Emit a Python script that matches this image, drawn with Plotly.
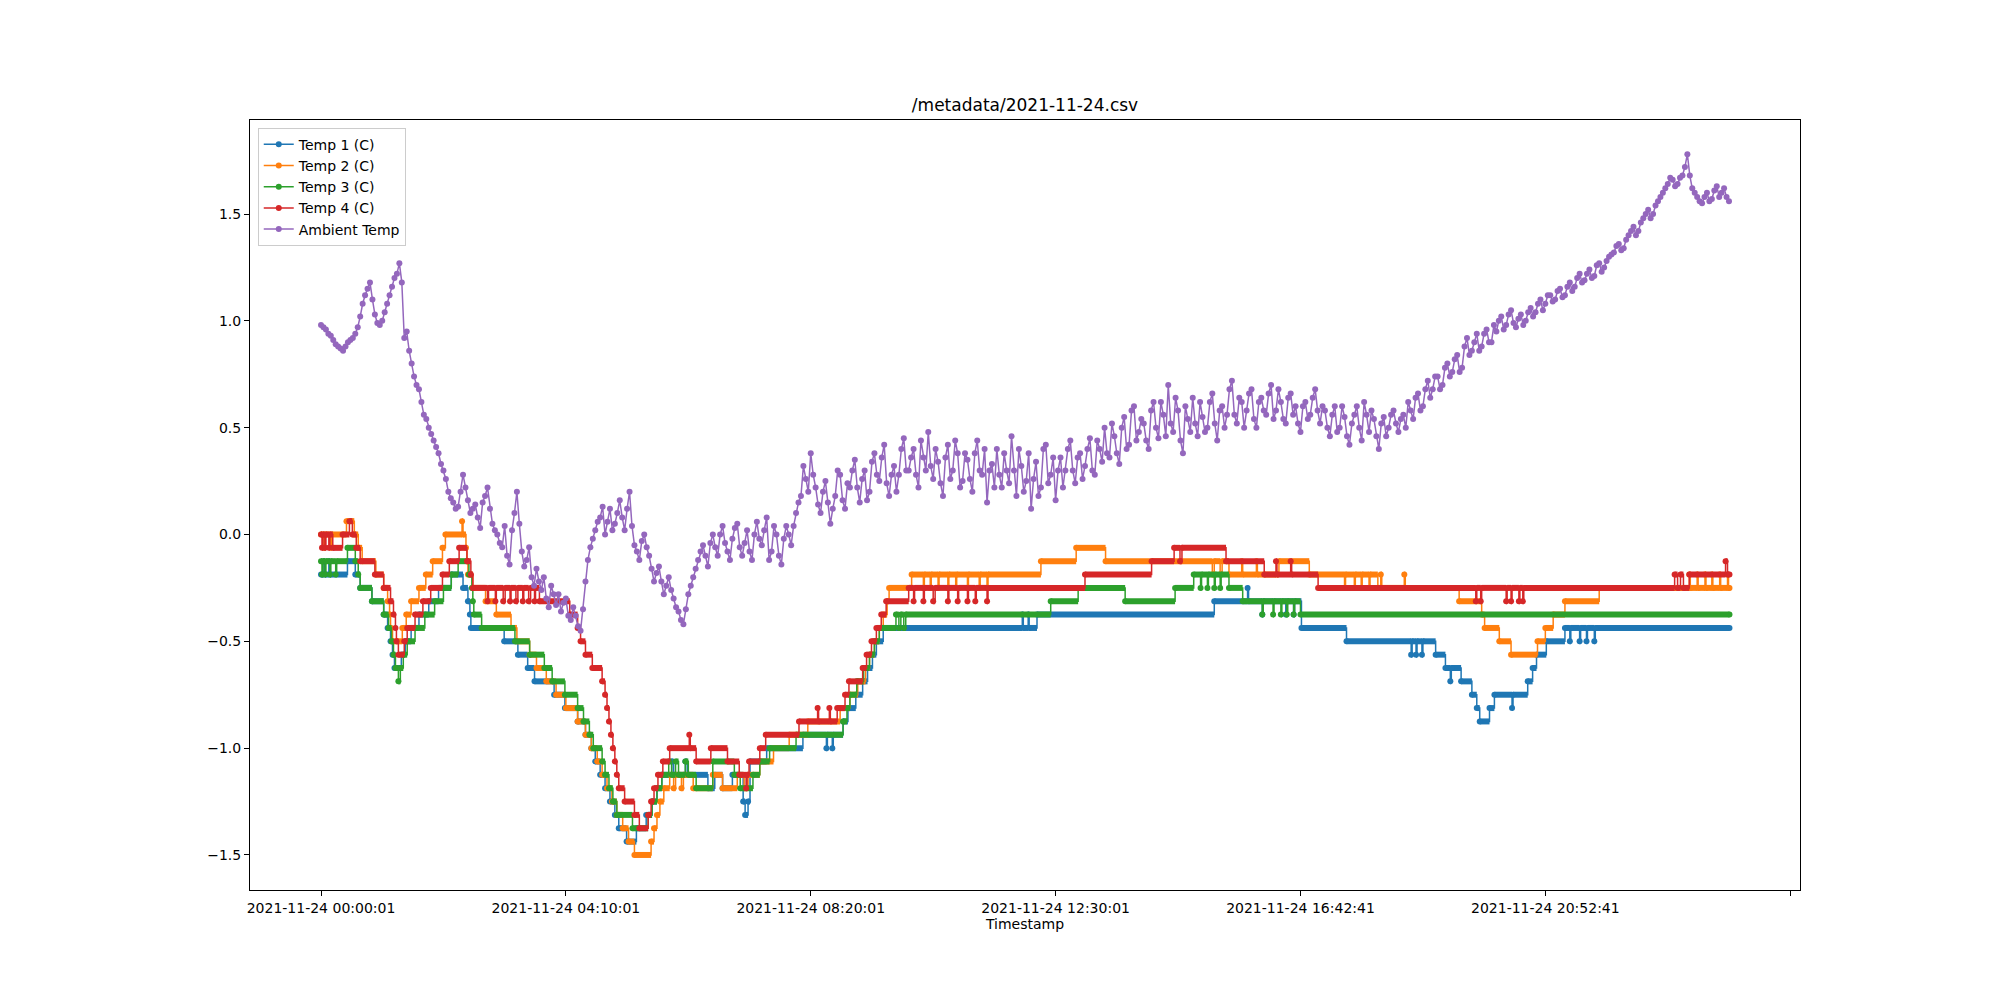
import plotly.graph_objects as go

TITLE = "/metadata/2021-11-24.csv"
X_LABEL = "Timestamp"
# x is minutes since 00:00:01 (sample position along the categorical time axis)
X_TICK_POS = [0, 250, 500, 750, 1000, 1250, 1500]
X_TICK_TEXT = [
    "2021-11-24 00:00:01",
    "2021-11-24 04:10:01",
    "2021-11-24 08:20:01",
    "2021-11-24 12:30:01",
    "2021-11-24 16:42:41",
    "2021-11-24 20:52:41",
    "",
]
Y_TICK_POS = [-1.5, -1.0, -0.5, 0.0, 0.5, 1.0, 1.5]
Y_TICK_TEXT = ["\u22121.5", "\u22121.0", "\u22120.5", "0.0", "0.5", "1.0", "1.5"]
LAST_MIN = 1438

# sensor readings as (minute, value) change points; 1/16 degree resolution
TEMP1 = [
    (0, -0.1875), (3, -0.125), (4, -0.1875), (8, -0.125), (9, -0.1875), (27, -0.125), (35, -0.1875),
    (40, -0.25), (52, -0.3125), (64, -0.375), (68, -0.4375), (71, -0.5), (73, -0.5625), (75, -0.625),
    (82, -0.5625), (86, -0.5), (92, -0.4375), (100, -0.375), (110, -0.3125), (120, -0.25), (133, -0.1875),
    (145, -0.25), (150, -0.3125), (152, -0.375), (153, -0.4375), (187, -0.5), (201, -0.5625), (211, -0.625),
    (218, -0.6875), (238, -0.75), (249, -0.8125), (262, -0.875), (270, -0.9375), (276, -1.0), (280, -1.0625),
    (285, -1.125), (290, -1.1875), (295, -1.25), (300, -1.3125), (304, -1.375), (312, -1.4375), (322, -1.375),
    (332, -1.3125), (338, -1.25), (343, -1.1875), (348, -1.125), (358, -1.0625), (360, -1.125), (372, -1.0625),
    (374, -1.125), (395, -1.1875), (402, -1.125), (410, -1.1875), (420, -1.125), (431, -1.25), (433, -1.3125),
    (436, -1.25), (438, -1.0625), (455, -1.0), (492, -0.9375), (516, -1.0), (517, -0.9375), (522, -1.0),
    (523, -0.9375), (533, -0.875), (538, -0.8125), (546, -0.75), (553, -0.6875), (558, -0.625), (563, -0.5625),
    (567, -0.5), (574, -0.4375), (716, -0.375), (717, -0.4375), (722, -0.375), (723, -0.4375), (731, -0.375),
    (912, -0.3125), (946, -0.25), (947, -0.3125), (961, -0.375), (962, -0.3125), (985, -0.375), (986, -0.3125),
    (993, -0.375), (994, -0.3125), (1001, -0.4375), (1047, -0.5), (1113, -0.5625), (1114, -0.5), (1118, -0.5625),
    (1119, -0.5), (1124, -0.5625), (1125, -0.5), (1138, -0.5625), (1148, -0.625), (1153, -0.6875), (1154, -0.625),
    (1164, -0.6875), (1175, -0.75), (1180, -0.8125), (1183, -0.875), (1193, -0.8125), (1198, -0.75),
    (1216, -0.8125), (1217, -0.75), (1232, -0.6875), (1237, -0.625), (1241, -0.5625), (1251, -0.5),
    (1270, -0.4375), (1275, -0.5), (1276, -0.4375), (1285, -0.5), (1286, -0.4375), (1292, -0.5), (1293, -0.4375),
    (1300, -0.5), (1301, -0.4375), (1438, -0.4375),
]

TEMP2 = [
    (0, 0.0), (3, -0.0625), (4, 0.0), (10, -0.0625), (11, 0.0), (26, 0.0625), (34, 0.0), (38, -0.0625),
    (42, -0.125), (56, -0.1875), (64, -0.25), (68, -0.3125), (70, -0.375), (71, -0.4375), (73, -0.5),
    (83, -0.4375), (87, -0.375), (92, -0.3125), (100, -0.25), (107, -0.1875), (114, -0.125), (124, -0.0625),
    (127, 0.0), (144, 0.0625), (145, 0.0), (148, -0.0625), (149, -0.125), (150, -0.1875), (155, -0.25),
    (168, -0.3125), (179, -0.375), (194, -0.4375), (200, -0.5), (213, -0.5625), (220, -0.625), (230, -0.6875),
    (240, -0.75), (250, -0.8125), (262, -0.875), (270, -0.9375), (276, -1.0), (282, -1.0625), (287, -1.125),
    (292, -1.1875), (297, -1.25), (302, -1.3125), (308, -1.375), (314, -1.4375), (320, -1.5), (337, -1.4375),
    (340, -1.375), (343, -1.3125), (346, -1.25), (350, -1.1875), (356, -1.125), (360, -1.1875), (362, -1.125),
    (368, -1.1875), (370, -1.125), (380, -1.1875), (400, -1.125), (410, -1.1875), (425, -1.125), (432, -1.1875),
    (436, -1.125), (448, -1.0625), (462, -1.0), (478, -0.9375), (497, -0.875), (530, -0.8125), (540, -0.75),
    (548, -0.6875), (556, -0.625), (560, -0.5625), (565, -0.5), (570, -0.4375), (574, -0.375), (578, -0.3125),
    (580, -0.25), (603, -0.1875), (615, -0.25), (616, -0.1875), (622, -0.25), (623, -0.1875), (630, -0.25),
    (631, -0.1875), (640, -0.25), (641, -0.1875), (648, -0.25), (649, -0.1875), (660, -0.25), (661, -0.1875),
    (672, -0.25), (673, -0.1875), (680, -0.25), (681, -0.1875), (735, -0.125), (771, -0.0625), (801, -0.125),
    (910, -0.1875), (912, -0.125), (918, -0.1875), (920, -0.125), (927, -0.1875), (940, -0.125), (941, -0.1875),
    (955, -0.125), (956, -0.1875), (978, -0.125), (1009, -0.1875), (1045, -0.25), (1046, -0.1875), (1055, -0.25),
    (1056, -0.1875), (1062, -0.25), (1063, -0.1875), (1070, -0.25), (1071, -0.1875), (1079, -0.25),
    (1082, -0.1875), (1083, -0.25), (1106, -0.1875), (1107, -0.25), (1162, -0.3125), (1185, -0.375),
    (1188, -0.4375), (1203, -0.5), (1215, -0.5625), (1242, -0.5), (1250, -0.4375), (1258, -0.375),
    (1270, -0.3125), (1305, -0.25), (1397, -0.1875), (1398, -0.25), (1405, -0.1875), (1406, -0.25),
    (1413, -0.1875), (1414, -0.25), (1420, -0.1875), (1421, -0.25), (1428, -0.1875), (1429, -0.25),
    (1436, -0.1875), (1437, -0.25), (1438, -0.25),
]

TEMP3 = [
    (0, -0.125), (1, -0.1875), (2, -0.125), (4, -0.1875), (5, -0.125), (9, -0.1875), (10, -0.125),
    (15, -0.1875), (16, -0.125), (27, -0.0625), (35, -0.125), (38, -0.1875), (40, -0.25), (52, -0.3125),
    (64, -0.375), (69, -0.4375), (72, -0.5), (74, -0.5625), (76, -0.625), (79, -0.6875), (81, -0.625),
    (84, -0.5625), (88, -0.5), (96, -0.4375), (106, -0.375), (116, -0.3125), (125, -0.25), (133, -0.1875),
    (140, -0.125), (151, -0.1875), (154, -0.25), (155, -0.3125), (156, -0.375), (164, -0.4375), (198, -0.5),
    (213, -0.5625), (228, -0.625), (236, -0.6875), (249, -0.75), (262, -0.8125), (268, -0.875), (274, -0.9375),
    (278, -1.0), (287, -1.0625), (290, -1.125), (294, -1.1875), (298, -1.25), (302, -1.3125), (318, -1.375),
    (334, -1.3125), (338, -1.25), (343, -1.1875), (348, -1.125), (355, -1.0625), (358, -1.125), (362, -1.0625),
    (365, -1.125), (372, -1.0625), (375, -1.125), (383, -1.1875), (400, -1.0625), (422, -1.125), (428, -1.1875),
    (441, -1.125), (448, -1.0625), (458, -1.0), (485, -0.9375), (533, -0.875), (537, -0.8125), (540, -0.75),
    (547, -0.6875), (554, -0.625), (560, -0.5625), (565, -0.5), (570, -0.4375), (587, -0.375), (590, -0.4375),
    (592, -0.375), (595, -0.4375), (597, -0.375), (745, -0.3125), (773, -0.25), (821, -0.3125), (872, -0.25),
    (891, -0.1875), (898, -0.25), (899, -0.1875), (905, -0.25), (906, -0.1875), (912, -0.25), (913, -0.1875),
    (918, -0.25), (919, -0.1875), (927, -0.25), (941, -0.3125), (961, -0.375), (962, -0.3125), (972, -0.375),
    (973, -0.3125), (980, -0.375), (981, -0.3125), (986, -0.375), (987, -0.3125), (993, -0.375), (994, -0.3125),
    (1000, -0.375), (1438, -0.375),
]

TEMP4 = [
    (0, 0.0), (1, -0.0625), (2, 0.0), (4, -0.0625), (5, 0.0), (8, -0.0625), (9, 0.0), (12, -0.0625), (22, 0.0),
    (29, 0.0625), (32, 0.0), (36, -0.0625), (40, -0.125), (55, -0.1875), (64, -0.25), (71, -0.3125), (74, -0.375),
    (76, -0.4375), (77, -0.5), (79, -0.5625), (85, -0.5), (88, -0.4375), (96, -0.375), (104, -0.3125),
    (112, -0.25), (124, -0.1875), (131, -0.125), (141, -0.0625), (149, -0.125), (153, -0.1875), (155, -0.25),
    (170, -0.3125), (171, -0.25), (178, -0.3125), (179, -0.25), (186, -0.3125), (188, -0.25), (193, -0.3125),
    (194, -0.25), (199, -0.3125), (201, -0.25), (206, -0.3125), (207, -0.25), (212, -0.3125), (214, -0.25),
    (218, -0.3125), (219, -0.25), (223, -0.3125), (254, -0.375), (262, -0.4375), (265, -0.5), (270, -0.5625),
    (277, -0.625), (287, -0.6875), (290, -0.75), (292, -0.8125), (294, -0.875), (296, -0.9375), (298, -1.0),
    (300, -1.0625), (302, -1.125), (304, -1.1875), (310, -1.25), (320, -1.3125), (325, -1.375), (334, -1.3125),
    (337, -1.25), (340, -1.1875), (344, -1.125), (349, -1.0625), (356, -1.0), (376, -0.9375), (377, -1.0),
    (383, -1.0625), (398, -1.0), (415, -1.0625), (427, -1.125), (434, -1.1875), (435, -1.125), (437, -1.0625),
    (448, -1.0), (454, -0.9375), (488, -0.875), (507, -0.8125), (508, -0.875), (519, -0.8125), (520, -0.875),
    (527, -0.8125), (535, -0.75), (539, -0.6875), (553, -0.625), (557, -0.5625), (562, -0.5), (567, -0.4375),
    (572, -0.375), (577, -0.3125), (600, -0.25), (605, -0.3125), (606, -0.25), (615, -0.3125), (616, -0.25),
    (625, -0.3125), (627, -0.25), (640, -0.3125), (641, -0.25), (650, -0.3125), (651, -0.25), (660, -0.3125),
    (661, -0.25), (668, -0.3125), (669, -0.25), (680, -0.3125), (681, -0.25), (780, -0.1875), (848, -0.125),
    (871, -0.0625), (877, -0.125), (879, -0.0625), (924, -0.125), (963, -0.1875), (975, -0.125), (976, -0.1875),
    (990, -0.125), (991, -0.1875), (1018, -0.25), (1179, -0.3125), (1180, -0.25), (1184, -0.3125), (1185, -0.25),
    (1210, -0.3125), (1211, -0.25), (1215, -0.3125), (1216, -0.25), (1223, -0.3125), (1224, -0.25),
    (1227, -0.3125), (1228, -0.25), (1382, -0.1875), (1385, -0.25), (1388, -0.1875), (1391, -0.25),
    (1397, -0.1875), (1434, -0.125), (1436, -0.1875), (1438, -0.1875),
]

# ambient temperature: readings on the 5-minute marks ...
AMBIENT_STEP_MIN = 5
AMBIENT = [
    0.98, 0.96, 0.93, 0.89, 0.87, 0.88, 0.91, 0.94, 1.02, 1.12, 1.18, 1.03,
    0.98, 1.04, 1.12, 1.20, 1.27, 0.92, 0.86, 0.74, 0.68, 0.56, 0.50, 0.44,
    0.38, 0.30, 0.20, 0.15, 0.13, 0.28, 0.16, 0.12, 0.08, 0.15, 0.22, 0.05,
    0.00, -0.06, -0.10, 0.02, 0.20, -0.08, -0.12, -0.20, -0.16, -0.26, -0.30, -0.24,
    -0.33, -0.36, -0.30, -0.40, -0.38, -0.45, -0.22, -0.06, 0.02, 0.08, 0.00, 0.12,
    0.05, 0.16, 0.02, 0.20, -0.05, -0.12, 0.00, -0.10, -0.22, -0.15, -0.28, -0.20,
    -0.30, -0.36, -0.42, -0.28, -0.20, -0.12, -0.05, -0.15, 0.00, -0.10, 0.04, -0.08,
    -0.02, 0.05, -0.10, 0.02, -0.12, 0.06, -0.05, 0.08, -0.08, 0.00, -0.14, 0.04,
    -0.05, 0.10, 0.18, 0.26, 0.38, 0.22, 0.10, 0.25, 0.05, 0.18, 0.28, 0.12,
    0.22, 0.35, 0.15, 0.30, 0.20, 0.38, 0.25, 0.42, 0.18, 0.32, 0.28, 0.45,
    0.30, 0.40, 0.22, 0.36, 0.48, 0.26, 0.34, 0.18, 0.42, 0.30, 0.38, 0.25,
    0.35, 0.20, 0.44, 0.28, 0.15, 0.33, 0.40, 0.22, 0.30, 0.46, 0.18, 0.32,
    0.25, 0.12, 0.34, 0.22, 0.42, 0.28, 0.16, 0.36, 0.30, 0.44, 0.24, 0.38,
    0.32, 0.45, 0.28, 0.40, 0.50, 0.36, 0.46, 0.33, 0.55, 0.42, 0.60, 0.48,
    0.52, 0.40, 0.62, 0.45, 0.56, 0.70, 0.48, 0.58, 0.38, 0.54, 0.64, 0.46,
    0.55, 0.50, 0.66, 0.44, 0.60, 0.56, 0.72, 0.52, 0.62, 0.58, 0.68, 0.50,
    0.64, 0.56, 0.70, 0.58, 0.62, 0.52, 0.66, 0.60, 0.48, 0.62, 0.56, 0.68,
    0.52, 0.58, 0.46, 0.60, 0.50, 0.55, 0.42, 0.56, 0.50, 0.62, 0.48, 0.54,
    0.40, 0.55, 0.50, 0.58, 0.48, 0.56, 0.62, 0.54, 0.66, 0.60, 0.72, 0.68,
    0.74, 0.70, 0.80, 0.76, 0.84, 0.78, 0.92, 0.86, 0.94, 0.88, 0.96, 0.90,
    0.95, 1.02, 0.98, 1.05, 0.97, 1.03, 1.00, 1.06, 1.04, 1.10, 1.08, 1.12,
    1.10, 1.15, 1.12, 1.18, 1.16, 1.22, 1.19, 1.24, 1.21, 1.27, 1.25, 1.30,
    1.32, 1.36, 1.34, 1.40, 1.44, 1.42, 1.48, 1.52, 1.50, 1.56, 1.60, 1.64,
    1.66, 1.64, 1.68, 1.78, 1.62, 1.58, 1.55, 1.60, 1.57, 1.63, 1.60, 1.58,
]
# ... and the readings taken half-way between them (2.5 min later)
AMBIENT_HALF = [
    0.97, 0.94, 0.91, 0.88, 0.86, 0.90, 0.92, 0.97, 1.08, 1.15, 1.10, 0.99,
    1.00, 1.08, 1.16, 1.22, 1.18, 0.95, 0.80, 0.70, 0.62, 0.54, 0.47, 0.41,
    0.33, 0.26, 0.17, 0.12, 0.20, 0.22, 0.10, 0.14, 0.03, 0.18, 0.12, 0.02,
    -0.04, 0.04, -0.14, 0.10, 0.05, -0.15, -0.06, -0.24, -0.22, -0.20, -0.34, -0.28,
    -0.28, -0.32, -0.38, -0.34, -0.43, -0.35, -0.12, -0.02, 0.06, 0.13, 0.06, 0.02,
    0.10, 0.08, 0.12, 0.04, -0.08, -0.03, -0.06, -0.16, -0.18, -0.22, -0.24, -0.26,
    -0.34, -0.40, -0.35, -0.24, -0.16, -0.08, -0.10, -0.04, -0.06, 0.00, -0.04, -0.12,
    0.03, -0.06, -0.04, -0.08, 0.00, -0.02, 0.02, -0.12, 0.04, -0.10, -0.02, 0.00,
    0.04, 0.15, 0.32, 0.20, 0.28, 0.14, 0.20, 0.15, 0.12, 0.30, 0.16, 0.24,
    0.30, 0.22, 0.26, 0.16, 0.34, 0.28, 0.36, 0.24, 0.28, 0.20, 0.40, 0.30,
    0.36, 0.28, 0.44, 0.30, 0.32, 0.40, 0.24, 0.36, 0.26, 0.44, 0.22, 0.38,
    0.26, 0.38, 0.30, 0.40, 0.30, 0.22, 0.28, 0.38, 0.24, 0.30, 0.40, 0.20,
    0.38, 0.26, 0.18, 0.40, 0.24, 0.36, 0.30, 0.22, 0.40, 0.30, 0.36, 0.26,
    0.40, 0.30, 0.44, 0.34, 0.38, 0.52, 0.38, 0.50, 0.40, 0.58, 0.44, 0.54,
    0.44, 0.58, 0.50, 0.62, 0.46, 0.52, 0.64, 0.44, 0.60, 0.48, 0.52, 0.62,
    0.48, 0.62, 0.52, 0.58, 0.50, 0.68, 0.56, 0.64, 0.50, 0.66, 0.54, 0.62,
    0.58, 0.66, 0.54, 0.68, 0.54, 0.64, 0.56, 0.52, 0.60, 0.54, 0.64, 0.58,
    0.60, 0.50, 0.56, 0.48, 0.60, 0.46, 0.52, 0.60, 0.44, 0.56, 0.58, 0.46,
    0.52, 0.46, 0.56, 0.52, 0.54, 0.50, 0.58, 0.64, 0.58, 0.68, 0.64, 0.74,
    0.68, 0.78, 0.74, 0.82, 0.76, 0.88, 0.84, 0.90, 0.86, 0.94, 0.90, 0.98,
    1.00, 0.96, 1.03, 0.99, 1.01, 0.98, 1.04, 1.02, 1.08, 1.05, 1.12, 1.09,
    1.14, 1.11, 1.16, 1.14, 1.20, 1.18, 1.22, 1.20, 1.26, 1.23, 1.28, 1.31,
    1.35, 1.33, 1.38, 1.42, 1.40, 1.46, 1.50, 1.48, 1.54, 1.58, 1.62, 1.67,
    1.63, 1.67, 1.72, 1.68, 1.60, 1.56, 1.58, 1.56, 1.61, 1.58, 1.62, 1.56,
]

SERIES = [
    ("Temp 1 (C)", TEMP1, "#1f77b4"),
    ("Temp 2 (C)", TEMP2, "#ff7f0e"),
    ("Temp 3 (C)", TEMP3, "#2ca02c"),
    ("Temp 4 (C)", TEMP4, "#d62728"),
]
AMBIENT_NAME = "Ambient Temp"
AMBIENT_COLOR = "#9467bd"


def level_segments(points, end):
    """Horizontal runs of each held reading, drawn thick like densely packed markers."""
    xs, ys = [], []
    for i, (m, v) in enumerate(points):
        m_next = points[i + 1][0] if i + 1 < len(points) else end
        xs += [m, m_next, None]
        ys += [v, v, None]
    return xs, ys


fig = go.Figure()

for name, pts, color in SERIES:
    seg_x, seg_y = level_segments(pts, LAST_MIN)
    fig.add_trace(
        go.Scatter(
            x=seg_x, y=seg_y, mode="lines",
            line=dict(color=color, width=6),
            showlegend=False, hoverinfo="skip",
        )
    )
    fig.add_trace(
        go.Scatter(
            x=[p[0] for p in pts], y=[p[1] for p in pts],
            mode="lines+markers", name=name,
            line=dict(color=color, width=1.5, shape="hv"),
            marker=dict(color=color, size=6),
        )
    )

amb_x, amb_y = [], []
for i, (a, b) in enumerate(zip(AMBIENT, AMBIENT_HALF)):
    amb_x += [i * AMBIENT_STEP_MIN, i * AMBIENT_STEP_MIN + AMBIENT_STEP_MIN / 2]
    amb_y += [a, b]

fig.add_trace(
    go.Scatter(
        x=amb_x, y=amb_y,
        mode="lines+markers", name=AMBIENT_NAME,
        line=dict(color=AMBIENT_COLOR, width=1.5),
        marker=dict(color=AMBIENT_COLOR, size=6),
    )
)

axis_common = dict(
    showline=True, linecolor="black", linewidth=1, mirror=True,
    ticks="outside", ticklen=5, tickwidth=1, tickcolor="black",
    showgrid=False, zeroline=False,
    tickfont=dict(size=14, color="black"),
)

# the page body adds an 8 px offset, so margins are shifted to keep the axes box in place
fig.update_layout(
    width=2000, height=1000,
    template="none",
    font=dict(family="DejaVu Sans", color="black"),
    paper_bgcolor="white", plot_bgcolor="white",
    margin=dict(l=242, r=208, t=112, b=118),
    title=dict(
        text=TITLE, x=0.5, xref="paper", xanchor="center",
        y=0.903, yref="container", yanchor="middle",
        font=dict(size=17, color="black"),
    ),
    legend=dict(
        x=0.005, y=0.99, xanchor="left", yanchor="top",
        bgcolor="rgba(255,255,255,0.8)", bordercolor="#cccccc", borderwidth=1,
        font=dict(size=14, color="black"), tracegroupgap=0,
    ),
    showlegend=True,
)

fig.update_xaxes(
    range=[-72.5, 1510],
    tickmode="array", tickvals=X_TICK_POS, ticktext=X_TICK_TEXT,
    title=dict(text=X_LABEL, font=dict(size=14, color="black"), standoff=4),
    **axis_common,
)
fig.update_yaxes(
    range=[-1.664, 1.94],
    tickmode="array", tickvals=Y_TICK_POS, ticktext=Y_TICK_TEXT,
    **axis_common,
)

fig.write_html("out.html")
